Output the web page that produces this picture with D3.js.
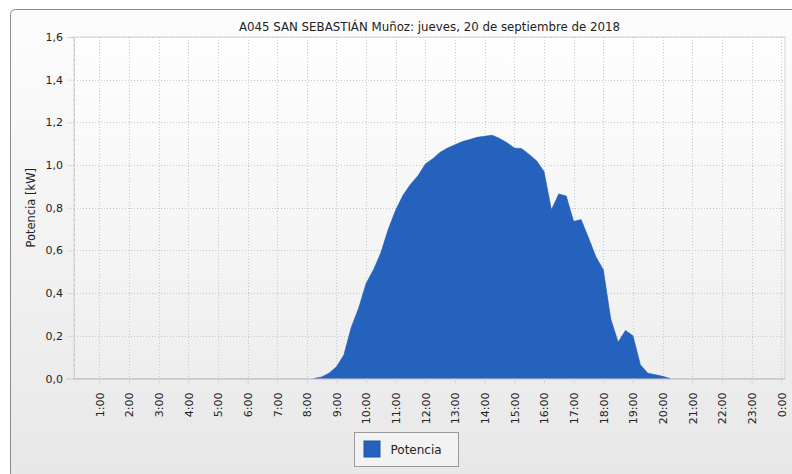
<!DOCTYPE html>
<html>
<head>
<meta charset="utf-8">
<script src="https://cdn.jsdelivr.net/npm/d3@7"></script>
<style>
  body { margin: 0; background: #fff; }
  text { font-family: "DejaVu Sans", Verdana, sans-serif; fill: #222; }
</style>
</head>
<body>
<script>
const width = 792;
const height = 474;

// The data (15 min samples, kW)
const times = ['8:15','8:30','8:45','9:00','9:15','9:30','9:45','10:00','10:15','10:30','10:45',
  '11:00','11:15','11:30','11:45','12:00','12:15','12:30','12:45','13:00','13:15','13:30','13:45',
  '14:00','14:15','14:30','14:45','15:00','15:15','15:30','15:45','16:00','16:15','16:30','16:45',
  '17:00','17:15','17:30','17:45','18:00','18:15','18:30','18:45','19:00','19:15','19:30','19:45',
  '20:00','20:15'];
const potencia = [0, 0.007, 0.025, 0.055, 0.11, 0.24, 0.33, 0.445, 0.51, 0.59, 0.70,
  0.79, 0.86, 0.91, 0.95, 1.005, 1.03, 1.06, 1.08, 1.095, 1.11, 1.12, 1.13,
  1.135, 1.14, 1.125, 1.105, 1.08, 1.077, 1.05, 1.02, 0.97, 0.79, 0.865, 0.855,
  0.735, 0.745, 0.66, 0.57, 0.51, 0.28, 0.17, 0.225, 0.2, 0.065, 0.025, 0.018,
  0.01, 0];

// Axis ticks
const hourTicks = d3.range(1, 25);
const yTicks = [0, 0.2, 0.4, 0.6, 0.8, 1.0, 1.2, 1.4, 1.6];

// The title
const mainTitle = 'A045 SAN SEBASTIÁN Muñoz: jueves, 20 de septiembre de 2018';
const yTitle = 'Potencia [kW]';
const seriesName = 'Potencia';

const plot = { left: 74, right: 785, top: 37, bottom: 378.5 };

const toHours = s => { const p = s.split(':'); return +p[0] + (+p[1]) / 60; };
const data = times.map((t, i) => ({ h: toHours(t), v: potencia[i] }));

const x = d3.scaleLinear().domain([0.146, 24.13]).range([plot.left, plot.right]);
const y = d3.scaleLinear().domain([0, 1.6]).range([plot.bottom, plot.top]);

const svg = d3.select('body').append('svg')
  .attr('width', width)
  .attr('height', height);

const defs = svg.append('defs');
const bgGrad = defs.append('linearGradient').attr('id', 'bg').attr('x1', 0).attr('y1', 0).attr('x2', 0).attr('y2', 1);
bgGrad.append('stop').attr('offset', '0%').attr('stop-color', '#fdfdfd');
bgGrad.append('stop').attr('offset', '100%').attr('stop-color', '#e6e6e6');
const plotGrad = defs.append('linearGradient').attr('id', 'pbg').attr('x1', 0).attr('y1', 0).attr('x2', 0).attr('y2', 1);
plotGrad.append('stop').attr('offset', '0%').attr('stop-color', '#fefefe');
plotGrad.append('stop').attr('offset', '100%').attr('stop-color', '#eeeeee');

// chart panel
svg.append('rect')
  .attr('x', 10.5).attr('y', 9.5)
  .attr('width', 800).attr('height', 500)
  .attr('rx', 5)
  .attr('fill', 'url(#bg)')
  .attr('stroke', '#8a8a8a');

// plot background
svg.append('rect')
  .attr('x', plot.left).attr('y', plot.top)
  .attr('width', plot.right - plot.left).attr('height', plot.bottom - plot.top)
  .attr('fill', 'url(#pbg)')
  .attr('stroke', '#d4d4d4');

// grid
const grid = svg.append('g').attr('stroke', '#c4c8cc').attr('stroke-dasharray', '1,2');
grid.selectAll('.vg').data(hourTicks).join('line')
  .attr('x1', d => Math.round(x(d)) + 0.5).attr('x2', d => Math.round(x(d)) + 0.5)
  .attr('y1', plot.top).attr('y2', plot.bottom);
grid.selectAll('.hg').data(yTicks.slice(1)).join('line')
  .attr('x1', plot.left).attr('x2', plot.right)
  .attr('y1', d => Math.round(y(d)) + 0.5).attr('y2', d => Math.round(y(d)) + 0.5);

// area
const area = d3.area()
  .x(d => x(d.h))
  .y0(y(0))
  .y1(d => y(d.v));
svg.append('path')
  .datum(data)
  .attr('d', area)
  .attr('fill', '#2462be')
  .attr('stroke', '#1f56a8')
  .attr('stroke-width', 0.6);

// axes
const xAxis = svg.append('g')
  .attr('transform', 'translate(0,' + plot.bottom + ')')
  .call(d3.axisBottom(x).tickValues(hourTicks).tickSize(6).tickPadding(6)
    .tickFormat(d => (d % 24) + ':00'));
xAxis.select('.domain').attr('stroke', '#b4bcc6').attr('d', 'M' + plot.left + ',0.5H' + plot.right);
xAxis.selectAll('.tick line').attr('stroke', '#c4c8cc').attr('stroke-dasharray', '1,1');
xAxis.selectAll('.tick text')
  .attr('transform', 'rotate(-90)')
  .attr('x', -14).attr('y', 0).attr('dy', '0.35em')
  .style('text-anchor', 'end')
  .style('font-size', '11px')
  .attr('fill', '#222');

const yAxis = svg.append('g')
  .attr('transform', 'translate(' + plot.left + ',0)')
  .call(d3.axisLeft(y).tickValues(yTicks).tickSize(7).tickPadding(4)
    .tickFormat(d => d3.format('.1f')(d).replace('.', ',')));
yAxis.select('.domain').attr('stroke', '#c4c8cc').attr('stroke-dasharray', '3,2');
yAxis.selectAll('.tick line').attr('stroke', '#c4c8cc').attr('stroke-dasharray', '1,1');
yAxis.selectAll('.tick text')
  .style('font-size', '11px')
  .attr('fill', '#222');

// titles
svg.append('text')
  .attr('x', (plot.left + plot.right) / 2).attr('y', 31)
  .style('text-anchor', 'middle')
  .style('font-size', '11.8px')
  .text(mainTitle);

svg.append('text')
  .attr('transform', 'translate(35,' + (plot.top + plot.bottom) / 2 + ') rotate(-90)')
  .style('text-anchor', 'middle')
  .style('font-size', '11.5px')
  .text(yTitle);

// legend
const legend = svg.append('g').attr('transform', 'translate(354.5,432.5)');
legend.append('rect')
  .attr('width', 104).attr('height', 34)
  .attr('fill', '#f2f2f2')
  .attr('stroke', '#9a9a9a');
legend.append('rect')
  .attr('x', 9.5).attr('y', 8.5)
  .attr('width', 16).attr('height', 16)
  .attr('fill', '#2462be')
  .attr('stroke', '#1f56a8');
legend.append('text')
  .attr('x', 36).attr('y', 21.5)
  .style('font-size', '12px')
  .text(seriesName);
</script>
</body>
</html>
